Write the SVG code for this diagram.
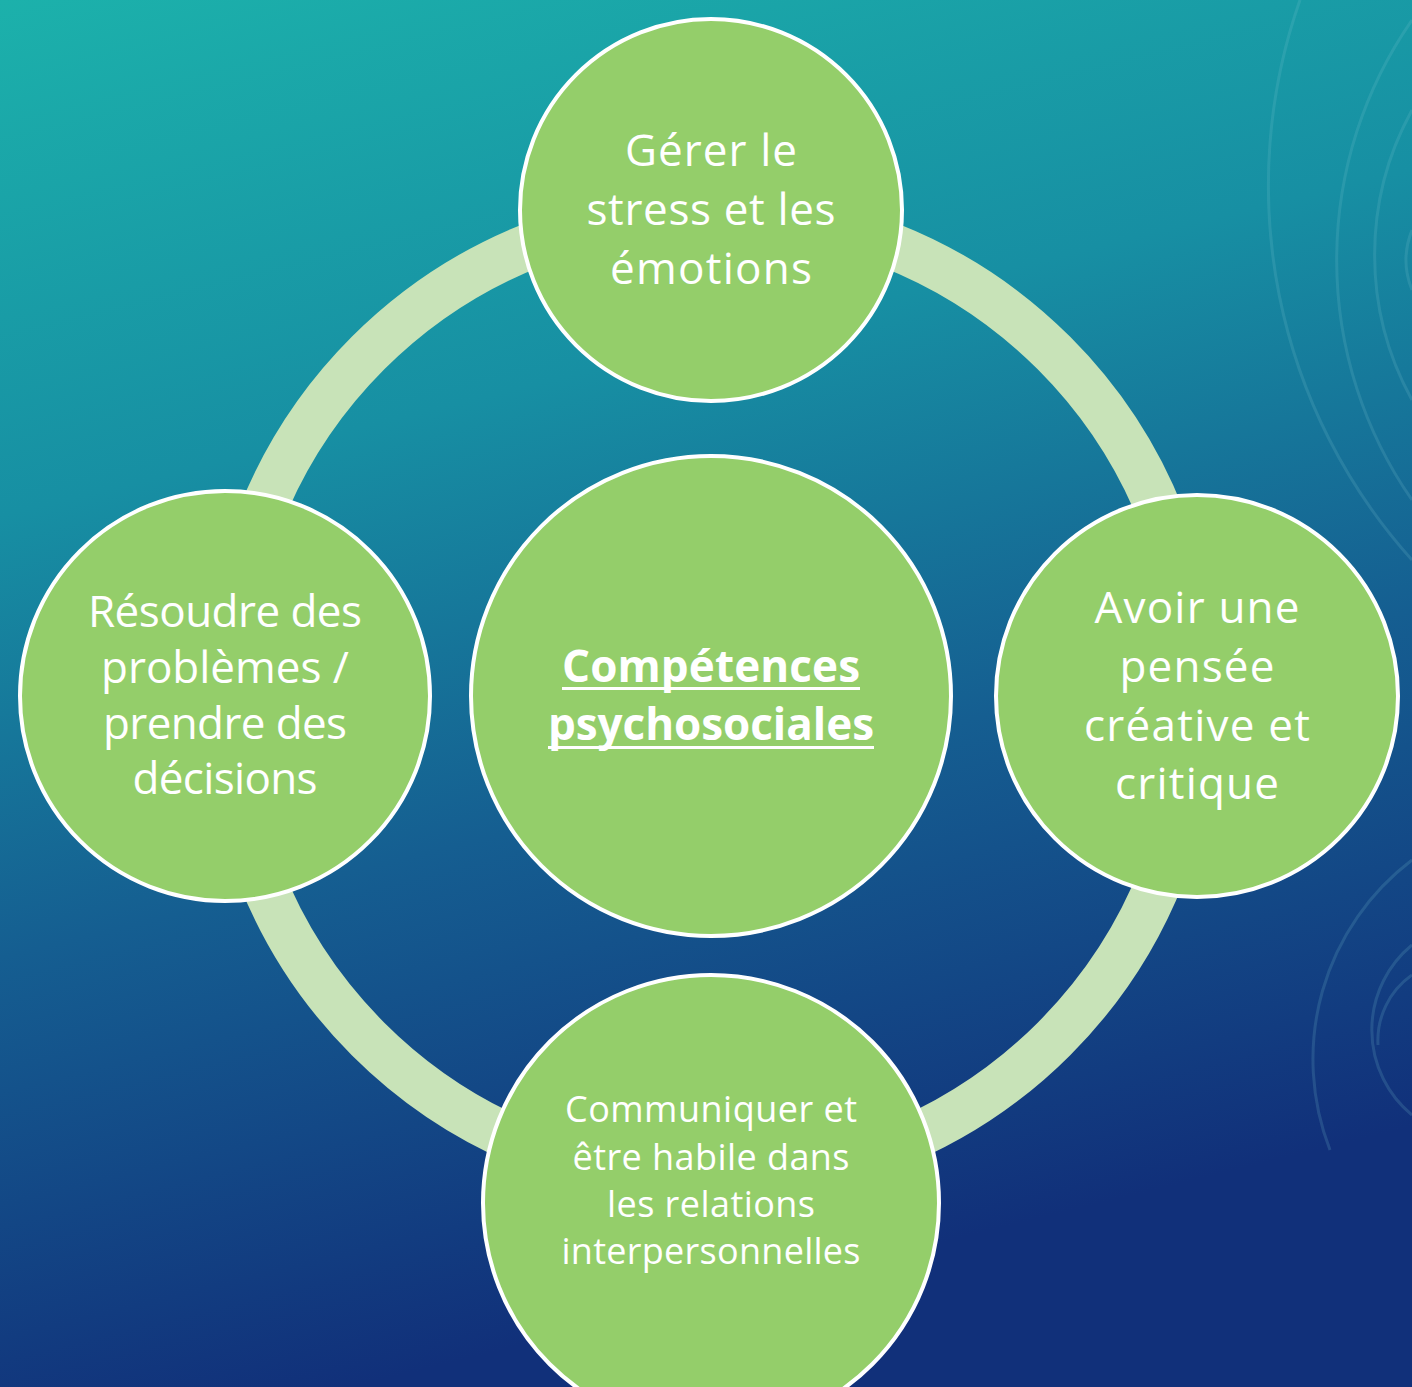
<svg xmlns="http://www.w3.org/2000/svg" width="1412" height="1387" viewBox="0 0 1412 1387">
<defs>
<linearGradient id="bg" x1="0" y1="0" x2="0.25" y2="1">
<stop offset="0" stop-color="#1CB1AB"/>
<stop offset="0.35" stop-color="#178FA3"/>
<stop offset="0.65" stop-color="#155E91"/>
<stop offset="1" stop-color="#11307A"/>
</linearGradient>
<style>
.node{fill:#94CE6A;stroke:#FFFFFF;stroke-width:4}
.t{font-family:"Open Sans","Noto Sans",sans-serif;fill:#FFFFFF;text-anchor:middle}
.deco{fill:none;stroke:#7FC8D0;stroke-opacity:0.18;stroke-width:3}
</style>
</defs>
<rect width="1412" height="1387" fill="url(#bg)"/>
<g id="decoration">
<path class="deco" d="M1300 0 A560 560 0 0 0 1412 560"/>
<path class="deco" d="M1412 20 A420 420 0 0 0 1412 500"/>
<path class="deco" d="M1412 110 A300 300 0 0 0 1412 400"/>
<path class="deco" d="M1412 230 A80 80 0 0 0 1412 290"/>
<path class="deco" d="M1412 860 A250 250 0 0 0 1330 1150"/>
<path class="deco" d="M1412 945 A110 110 0 0 0 1412 1115"/>
<path class="deco" d="M1412 975 A80 80 0 0 0 1378 1045"/>
</g>
<g id="connectors">
<circle cx="711" cy="696" r="485" fill="none" stroke="#C8E3B8" stroke-width="46"/>
</g>
<g id="node-top">
<circle class="node" cx="711" cy="210" r="191"/>
<text class="t" font-size="44"><tspan x="711" y="166" textLength="172">Gérer le</tspan><tspan x="711" y="225" textLength="249">stress et les</tspan><tspan x="711" y="284" textLength="202">émotions</tspan></text>
</g>
<g id="node-left">
<circle class="node" cx="225" cy="696" r="205"/>
<text class="t" font-size="44"><tspan x="225" y="627" textLength="274">Résoudre des</tspan><tspan x="225" y="683" textLength="248">problèmes /</tspan><tspan x="225" y="739" textLength="244">prendre des</tspan><tspan x="225" y="794" textLength="185">décisions</tspan></text>
</g>
<g id="node-right">
<circle class="node" cx="1197" cy="696" r="201"/>
<text class="t" font-size="44"><tspan x="1197" y="623" textLength="205">Avoir une</tspan><tspan x="1197" y="682" textLength="155">pensée</tspan><tspan x="1197" y="741" textLength="226">créative et</tspan><tspan x="1197" y="799" textLength="164">critique</tspan></text>
</g>
<g id="node-bottom">
<circle class="node" cx="711" cy="1203" r="228"/>
<text class="t" font-size="36"><tspan x="711" y="1122" textLength="292">Communiquer et</tspan><tspan x="711" y="1170" textLength="277">être habile dans</tspan><tspan x="711" y="1217" textLength="208">les relations</tspan><tspan x="711" y="1264" textLength="299">interpersonnelles</tspan></text>
</g>
<g id="node-center">
<circle class="node" cx="711" cy="696" r="240"/>
<text class="t" font-size="44" font-weight="bold"><tspan x="711" y="682" textLength="298">Compétences</tspan><tspan x="711" y="740" textLength="326">psychosociales</tspan></text>
<rect x="562" y="687" width="298" height="3" fill="#FFFFFF"/>
<rect x="548" y="746" width="326" height="3" fill="#FFFFFF"/>
</g>
</svg>
